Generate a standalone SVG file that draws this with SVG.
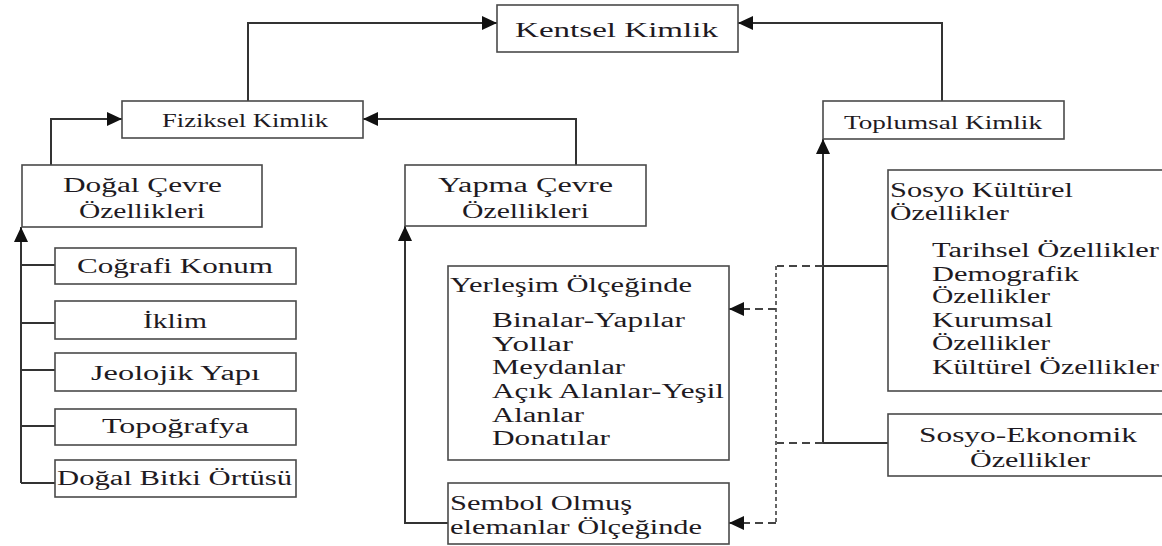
<svg xmlns="http://www.w3.org/2000/svg" width="1162" height="546" viewBox="0 0 1162 546">
<style>
.box{fill:#fff;stroke:#4a4a4a;stroke-width:1.6}
.ln{fill:none;stroke:#333;stroke-width:2}
.dh{fill:none;stroke:#444;stroke-width:1.8;stroke-dasharray:8 5}
.dv{fill:none;stroke:#555;stroke-width:1.8;stroke-dasharray:4 3}
text{font-family:"Liberation Serif","Times New Roman",serif;font-size:20px;fill:#1e1a22}
</style>
<defs>
<marker id="ah" markerUnits="userSpaceOnUse" markerWidth="16" markerHeight="14" refX="15" refY="7" orient="auto">
<path d="M0,0 L15,7 L0,14 z" fill="#111"/>
</marker>
</defs>
<rect width="1162" height="546" fill="#fff"/>
<g id="connectors">
<path class="ln" d="M248,101 V23 H497" marker-end="url(#ah)"/>
<path class="ln" d="M942,101 V23 H738" marker-end="url(#ah)"/>
<path class="ln" d="M51,165 V119 H122" marker-end="url(#ah)"/>
<path class="ln" d="M576,165 V119 H363" marker-end="url(#ah)"/>
<path class="ln" d="M21,483 V227" marker-end="url(#ah)"/>
<path class="ln" d="M21,265 H55 M21,323 H55 M21,370 H55 M21,426 H55 M21,483 H55"/>
<path class="ln" d="M448,523 H405 V226" marker-end="url(#ah)"/>
<path class="ln" d="M823,443 V139" marker-end="url(#ah)"/>
<path class="ln" d="M823,266 H888 M823,443 H888"/>
<path class="dh" d="M823,266 H777 M823,443 H777"/>
<path class="dv" d="M776,266 V523"/>
<path class="dh" d="M776,309 H729" marker-end="url(#ah)"/>
<path class="dh" d="M776,523 H729" marker-end="url(#ah)"/>
</g>
<g id="kentsel"><rect class="box" x="497" y="5" width="241" height="47"/><text x="515" y="37" font-size="22" textLength="203" lengthAdjust="spacingAndGlyphs" style="font-size:22px">Kentsel Kimlik</text></g>
<g id="fiziksel"><rect class="box" x="122" y="101" width="241" height="37"/><text x="162" y="127" textLength="166" lengthAdjust="spacingAndGlyphs" style="font-size:19px">Fiziksel Kimlik</text></g>
<g id="toplumsal"><rect class="box" x="823" y="101" width="241" height="38"/><text x="844" y="129" textLength="198" lengthAdjust="spacingAndGlyphs" style="font-size:19px">Toplumsal Kimlik</text></g>
<g id="dogal"><rect class="box" x="22" y="165" width="240" height="62"/><text x="63" y="192" textLength="159" lengthAdjust="spacingAndGlyphs">Doğal Çevre</text><text x="79" y="218" textLength="126" lengthAdjust="spacingAndGlyphs">Özellikleri</text></g>
<g id="yapma"><rect class="box" x="405" y="165" width="241" height="61"/><text x="438" y="192" textLength="175" lengthAdjust="spacingAndGlyphs">Yapma Çevre</text><text x="462" y="218" textLength="127" lengthAdjust="spacingAndGlyphs">Özellikleri</text></g>
<g id="cografi"><rect class="box" x="55" y="248" width="241" height="36"/><text x="77" y="273" textLength="196" lengthAdjust="spacingAndGlyphs">Coğrafi Konum</text></g>
<g id="iklim"><rect class="box" x="55" y="301" width="241" height="38"/><text x="143" y="328" textLength="64" lengthAdjust="spacingAndGlyphs">İklim</text></g>
<g id="jeolojik"><rect class="box" x="55" y="353" width="241" height="38"/><text x="91" y="380" textLength="169" lengthAdjust="spacingAndGlyphs">Jeolojik Yapı</text></g>
<g id="topografya"><rect class="box" x="55" y="409" width="241" height="36"/><text x="102" y="433" textLength="147" lengthAdjust="spacingAndGlyphs">Topoğrafya</text></g>
<g id="bitki"><rect class="box" x="55" y="460" width="241" height="37"/><text x="57" y="485" textLength="235" lengthAdjust="spacingAndGlyphs">Doğal Bitki Örtüsü</text></g>
<g id="yerlesim"><rect class="box" x="448" y="266" width="281" height="194"/>
<text x="450" y="292" textLength="242" lengthAdjust="spacingAndGlyphs">Yerleşim Ölçeğinde</text>
<text x="492" y="327" textLength="193" lengthAdjust="spacingAndGlyphs">Binalar-Yapılar</text>
<text x="492" y="351" textLength="81" lengthAdjust="spacingAndGlyphs">Yollar</text>
<text x="492" y="374" textLength="133" lengthAdjust="spacingAndGlyphs">Meydanlar</text>
<text x="492" y="398" textLength="232" lengthAdjust="spacingAndGlyphs">Açık Alanlar-Yeşil</text>
<text x="492" y="422" textLength="92" lengthAdjust="spacingAndGlyphs">Alanlar</text>
<text x="492" y="445" textLength="118" lengthAdjust="spacingAndGlyphs">Donatılar</text></g>
<g id="sembol"><rect class="box" x="448" y="483" width="281" height="61"/><text x="450" y="510" textLength="182" lengthAdjust="spacingAndGlyphs">Sembol Olmuş</text><text x="450" y="534" textLength="252" lengthAdjust="spacingAndGlyphs">elemanlar Ölçeğinde</text></g>
<g id="sosyokulturel"><rect class="box" x="888" y="170" width="290" height="221"/>
<text x="890" y="197" textLength="183" lengthAdjust="spacingAndGlyphs">Sosyo Kültürel</text>
<text x="890" y="220" textLength="119" lengthAdjust="spacingAndGlyphs">Özellikler</text>
<text x="932" y="257" textLength="227" lengthAdjust="spacingAndGlyphs">Tarihsel Özellikler</text>
<text x="932" y="281" textLength="147" lengthAdjust="spacingAndGlyphs">Demografik</text>
<text x="932" y="303" textLength="118" lengthAdjust="spacingAndGlyphs">Özellikler</text>
<text x="932" y="327" textLength="121" lengthAdjust="spacingAndGlyphs">Kurumsal</text>
<text x="932" y="350" textLength="118" lengthAdjust="spacingAndGlyphs">Özellikler</text>
<text x="932" y="374" textLength="227" lengthAdjust="spacingAndGlyphs">Kültürel Özellikler</text></g>
<g id="sosyoekonomik"><rect class="box" x="888" y="414" width="290" height="62"/><text x="919" y="442" textLength="218" lengthAdjust="spacingAndGlyphs">Sosyo-Ekonomik</text><text x="970" y="467" textLength="120" lengthAdjust="spacingAndGlyphs">Özellikler</text></g>
</svg>
